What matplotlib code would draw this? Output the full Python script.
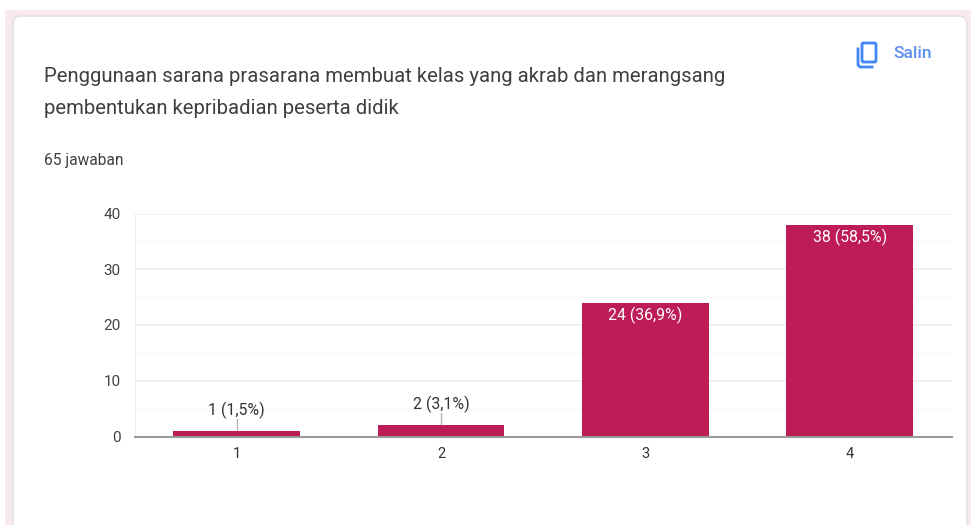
#!/usr/bin/env python3
import numpy as np
import matplotlib
matplotlib.use('Agg')
import matplotlib.pyplot as plt
from matplotlib.patches import FancyBboxPatch, Rectangle
from matplotlib.lines import Line2D

plt.rcParams['font.family'] = ['Roboto', 'DejaVu Sans']

W, H = 971, 525

categories = ['1', '2', '3', '4']
counts = [1, 2, 24, 38]
labels = ['1 (1,5%)', '2 (3,1%)', '24 (36,9%)', '38 (58,5%)']
yticks = [0, 10, 20, 30, 40]
yminor = [5, 15, 25, 35]
title_lines = ['Penggunaan sarana prasarana membuat kelas yang akrab dan merangsang',
               'pembentukan kepribadian peserta didik']
answers = '65 jawaban'
copy_label = 'Salin'

BAR = '#bd1c56'
TEXT = '#3c4043'


def px_axes(x0, y0, x1, y1):
    # pixels from top left -> figure fraction rectangle
    return [x0/W, 1 - y1/H, (x1-x0)/W, (y1-y0)/H]


fig = plt.figure(figsize=(W/100, H/100), dpi=100, facecolor='white')

# background in pixel coordinates
bg = fig.add_axes([0, 0, 1, 1])
bg.set_xlim(0, W)
bg.set_ylim(H, 0)
bg.axis('off')
bg.add_patch(Rectangle((5, 10), W-5, H-10, fc='#f8e9ee', ec='none'))
bg.add_patch(FancyBboxPatch((13, 16), 954, H+20, boxstyle='round,pad=0,rounding_size=8',
                            fc='white', ec='#e4e1e3', lw=1.2))

for i, line in enumerate(title_lines):
    bg.text(44, 77 + i*31, line, fontsize=14.6, color=TEXT, va='center', ha='left')
bg.text(44, 161, answers, fontsize=11.2, color=TEXT, va='center', ha='left')

# copy icon
bg.add_patch(FancyBboxPatch((862, 43), 14, 19, boxstyle='round,pad=0,rounding_size=1.5',
                            fc='none', ec='#4285f4', lw=2))
bg.add_line(Line2D([858, 858, 860, 872], [49, 65, 67, 67], color='#4285f4', lw=2))
bg.text(893, 54, copy_label, fontsize=12.6, color='#5f8fee', fontweight='medium',
        va='center', ha='left')

ax = fig.add_axes(px_axes(134.5, 213.5, 952, 436.5))
ax.patch.set_alpha(0)
x = np.arange(len(categories))
bars = ax.bar(x, counts, width=0.62, color=BAR, zorder=3)
ax.set_xlim(-0.5, 3.5)
ax.set_ylim(0, 40)
ax.set_xticks(x, categories)
ax.set_yticks(yticks)
ax.set_yticks(yminor, minor=True)
ax.grid(True, which='major', axis='y', color='#eeeeee', lw=1.1, zorder=0)
ax.grid(True, which='minor', axis='y', color='#f7f7f7', lw=1, zorder=0)
ax.tick_params(axis='both', which='both', length=0)
ax.tick_params(axis='x', labelsize=10.5, labelcolor='#333333', pad=7.5)
ax.tick_params(axis='y', labelsize=11, labelcolor='#444444', pad=10)
for s in ['top', 'right']:
    ax.spines[s].set_visible(False)
ax.spines['left'].set_color('#eeeeee')
ax.spines['bottom'].set_color('#9a9a9a')
ax.spines['bottom'].set_linewidth(1.5)
ax.spines['bottom'].set_zorder(4)

# labels: inside for the tall bars, on a leader line for the short ones
for xi, c, lab in zip(x, counts, labels):
    if c < 5:
        ax.plot([xi, xi], [c, c+2.2], color='#b5b5b5', lw=1, zorder=2)
        ax.text(xi, c+3.7, lab, fontsize=11.4, color='#333333', ha='center', va='center')
    else:
        ax.text(xi, c-2.3, lab, fontsize=11.4, color='white', ha='center', va='center', zorder=5)

fig.savefig('out.png', dpi=100)
